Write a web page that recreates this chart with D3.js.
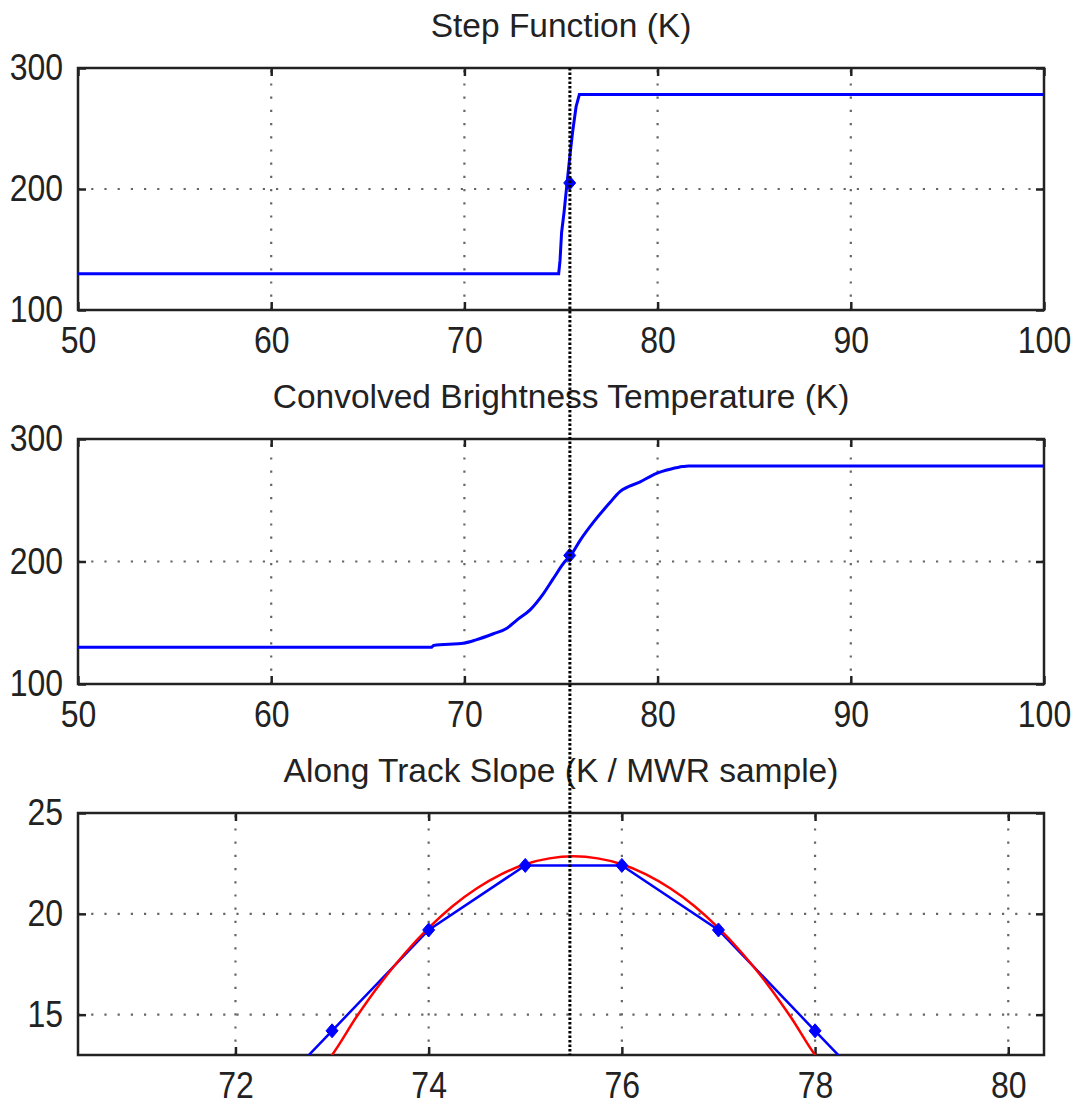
<!DOCTYPE html>
<html>
<head>
<meta charset="utf-8">
<script src="https://cdn.jsdelivr.net/npm/d3@7"></script>
<style>
  html, body { margin: 0; padding: 0; background: #fff; }
  svg { display: block; }
  .tk { transform-box: fill-box; transform-origin: center; transform: scaleY(1.14); }
</style>
</head>
<body>
<svg id="chart" width="1077" height="1109"></svg>
<script>
// ---------------- DATA ----------------
// Panel 1: Step Function (K)
const stepX = [50, 74.88, 74.95, 75.03, 75.16, 75.30, 75.45, 75.60, 75.78, 75.95, 100];
const stepY = [130, 130, 141, 164, 181, 203, 226, 247, 268, 278, 278];
const stepMarkerX = [75.45];
const stepMarkerY = [205];

// Panel 2: Convolved Brightness Temperature (K)
const convX = [50, 68.3, 68.4, 70.0, 70.6, 71.5, 72.2, 72.7, 73.4, 74.1, 74.6, 75.2, 75.5, 76.0, 76.7, 77.5, 78.05, 79.1, 79.95, 80.7, 81.3, 81.6, 100];
const convY = [130, 130, 131.5, 133.5, 136, 141, 145.5, 152, 160.5, 174, 186, 200, 205, 217.5, 232.5, 247.5, 257, 265, 272, 275.5, 277.5, 278, 278];
const convMarkerX = [75.45];
const convMarkerY = [205];

// Panel 3: Along Track Slope (K / MWR sample)
const slopeX = [72, 73, 74, 75, 76, 77, 78, 79];
const slopeY = [9.2, 14.2, 19.2, 22.4, 22.4, 19.2, 14.2, 9.2];
const slopeMarkerX = [73, 74, 75, 76, 77, 78];
const slopeMarkerY = [14.2, 19.2, 22.4, 22.4, 19.2, 14.2];
const fitX = [72.9, 73.0, 73.25, 73.5, 73.75, 74.0, 74.25, 74.5, 74.75, 75.0, 75.25, 75.5, 75.75, 76.0, 76.25, 76.5, 76.75, 77.0, 77.25, 77.5, 77.75, 78.0, 78.1];
const fitY = [12.4, 13.0, 14.87, 16.55, 18.02, 19.30, 20.39, 21.27, 21.96, 22.46, 22.75, 22.85, 22.75, 22.46, 21.96, 21.27, 20.39, 19.30, 18.02, 16.55, 14.87, 13.0, 12.4];

// Reference line position (shared x)
const refLineX = 75.46;

// Titles and ticks
const titles = ["Step Function (K)", "Convolved Brightness Temperature (K)", "Along Track Slope (K / MWR sample)"];
const xTicks12 = [50, 60, 70, 80, 90, 100];
const yTicks12 = [100, 200, 300];
const xTicks3 = [72, 74, 76, 78, 80];
const yTicks3 = [15, 20, 25];

// ---------------- LAYOUT ----------------
const svg = d3.select("#chart");
svg.append("rect").attr("width", 1077).attr("height", 1109).attr("fill", "#fff");

const L = 78, R = 1044;
const panels = [
  { top: 68, bottom: 310, xd: [50, 100], yd: [100, 300], xt: xTicks12, yt: yTicks12, title: titles[0] },
  { top: 439, bottom: 684, xd: [50, 100], yd: [100, 300], xt: xTicks12, yt: yTicks12, title: titles[1] },
  { top: 813, bottom: 1055, xd: [70.37, 80.37], yd: [13, 25], xt: xTicks3, yt: yTicks3, title: titles[2] }
];

const tickFont = "'Liberation Sans', Arial, sans-serif";
const titleFont = "'Liberation Sans', Arial, sans-serif";

function diamond(sel, xs, ys, x, y, color) {
  const pts = xs.map((v, i) => [x(v), y(ys[i])]);
  sel.selectAll(null).data(pts).enter().append("path")
    .attr("d", d => `M${d[0]},${d[1]-7} L${d[0]+6},${d[1]} L${d[0]},${d[1]+7} L${d[0]-6},${d[1]} Z`)
    .attr("fill", color).attr("stroke", color).attr("stroke-width", 1);
}

panels.forEach((p, i) => {
  const x = d3.scaleLinear().domain(p.xd).range([L, R]);
  const y = d3.scaleLinear().domain(p.yd).range([p.bottom, p.top]);
  p.x = x; p.y = y;
  const g = svg.append("g");
  const clipId = "clip" + i;
  svg.append("clipPath").attr("id", clipId).append("rect")
    .attr("x", L).attr("y", p.top).attr("width", R - L).attr("height", p.bottom - p.top);

  // grid
  const grid = g.append("g").attr("stroke", "#666").attr("stroke-width", 2.2)
    .attr("stroke-dasharray", "2.2,11").attr("fill", "none");
  p.xt.filter(t => x(t) > L + 2 && x(t) < R - 2).forEach(t => {
    grid.append("line").attr("x1", x(t)).attr("x2", x(t)).attr("y1", p.bottom).attr("y2", p.top);
  });
  p.yt.filter(t => y(t) > p.top + 2 && y(t) < p.bottom - 2).forEach(t => {
    grid.append("line").attr("x1", L).attr("x2", R).attr("y1", y(t)).attr("y2", y(t));
  });

  // axes (ticks inside)
  const axB = g.append("g").attr("transform", `translate(0,${p.bottom})`)
    .call(d3.axisBottom(x).tickValues(p.xt).tickSize(-8).tickPadding(19).tickFormat(d3.format("d")));
  const axT = g.append("g").attr("transform", `translate(0,${p.top})`)
    .call(d3.axisTop(x).tickValues(p.xt).tickSize(-8).tickFormat(""));
  const axL = g.append("g").attr("transform", `translate(${L},0)`)
    .call(d3.axisLeft(y).tickValues(p.yt).tickSize(-8).tickPadding(15).tickFormat(d3.format("d")));
  const axR = g.append("g").attr("transform", `translate(${R},0)`)
    .call(d3.axisRight(y).tickValues(p.yt).tickSize(-8).tickFormat(""));
  [axB, axT, axL, axR].forEach(a => {
    a.select(".domain").remove();
    a.selectAll(".tick line").attr("stroke", "#222").attr("stroke-width", 2.5);
    a.selectAll("text").attr("class", "tk").attr("fill", "#222")
      .style("font-family", tickFont).style("font-size", "32px");
  });

  // border
  g.append("rect").attr("x", L).attr("y", p.top).attr("width", R - L).attr("height", p.bottom - p.top)
    .attr("fill", "none").attr("stroke", "#222").attr("stroke-width", 2.5);

  // title
  g.append("text").attr("x", (L + R) / 2).attr("y", p.top - 31).attr("text-anchor", "middle")
    .style("font-family", titleFont).style("font-size", "33.5px").attr("fill", "#222").text(p.title);

  p.plot = svg.append("g").attr("clip-path", `url(#${clipId})`);
});

// ---------------- SERIES ----------------
const line = (x, y) => d3.line().x(d => x(d[0])).y(d => y(d[1]));

// Panel 1
{
  const p = panels[0];
  p.plot.append("path").datum(stepX.map((v, i) => [v, stepY[i]]))
    .attr("d", line(p.x, p.y)).attr("fill", "none").attr("stroke", "#0000ff").attr("stroke-width", 3);
  diamond(p.plot, stepMarkerX, stepMarkerY, p.x, p.y, "#0000ff");
}
// Panel 2
{
  const p = panels[1];
  p.plot.append("path").datum(convX.map((v, i) => [v, convY[i]]))
    .attr("d", line(p.x, p.y).curve(d3.curveMonotoneX)).attr("fill", "none").attr("stroke", "#0000ff").attr("stroke-width", 3);
  diamond(p.plot, convMarkerX, convMarkerY, p.x, p.y, "#0000ff");
}
// Panel 3
{
  const p = panels[2];
  p.plot.append("path").datum(slopeX.map((v, i) => [v, slopeY[i]]))
    .attr("d", line(p.x, p.y)).attr("fill", "none").attr("stroke", "#0000ff").attr("stroke-width", 2.5);
  p.plot.append("path").datum(fitX.map((v, i) => [v, fitY[i]]))
    .attr("d", line(p.x, p.y).curve(d3.curveMonotoneX)).attr("fill", "none").attr("stroke", "#ff0000").attr("stroke-width", 2.5);
  diamond(p.plot, slopeMarkerX, slopeMarkerY, p.x, p.y, "#0000ff");
}

// Reference vertical dotted line spanning all panels
{
  const x0 = panels[0].x;
  svg.append("line").attr("x1", x0(refLineX)).attr("x2", x0(refLineX))
    .attr("y1", panels[0].top).attr("y2", panels[2].bottom)
    .attr("stroke", "#000").attr("stroke-width", 3).attr("stroke-dasharray", "2.5,2");
}
</script>
</body>
</html>
